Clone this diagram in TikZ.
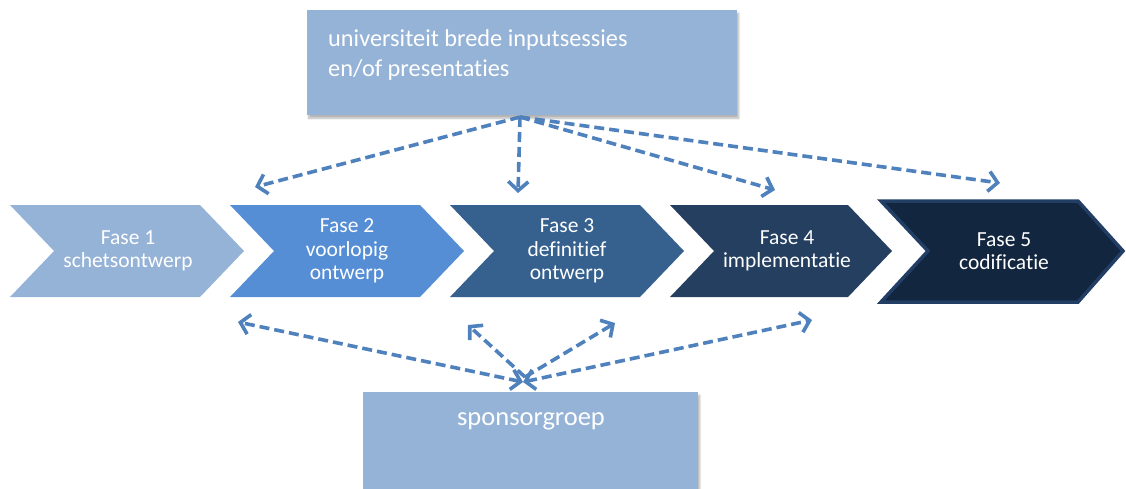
\documentclass[tikz,border=0pt]{standalone}
\usepackage{fontspec}
\setmainfont{Carlito}[Ligatures={NoCommon}]
\usetikzlibrary{arrows.meta,shadows.blur}
\definecolor{boxblue}{HTML}{95B3D7}
\definecolor{fone}{HTML}{95B3D7}
\definecolor{ftwo}{HTML}{558ED5}
\definecolor{fthree}{HTML}{36618F}
\definecolor{ffour}{HTML}{253F60}
\definecolor{ffive}{HTML}{12263F}
\definecolor{ffiveborder}{HTML}{223E64}
\definecolor{arrowblue}{HTML}{4F81BD}
\tikzset{
  infobox/.style={fill=boxblue, draw=none, blur shadow={shadow blur steps=8, shadow xshift=1.5pt, shadow yshift=-3pt, shadow opacity=30}},
  fasetext/.style={text=white, align=center, font=\fontsize{21.5}{23.5}\selectfont},
  conn/.style={draw=arrowblue, line width=3.6pt, dash pattern=on 10pt off 5pt},
  tipend/.style={-{Straight Barb[length=9pt,width=20pt,line width=3.6pt]}},
  tipboth/.style={{Straight Barb[length=9pt,width=20pt,line width=3.6pt]}-{Straight Barb[length=9pt,width=20pt,line width=3.6pt]}},
}
\newcommand{\chevron}[4]{% x0, width, depth, style
  \path[#4] (#1,205) -- ({#1+#2-#3},205) -- ({#1+#2},251) -- ({#1+#2-#3},297) -- (#1,297) -- ({#1+#3},251) -- cycle;
}
\begin{document}
\begin{tikzpicture}[x=1pt,y=-1pt]
\useasboundingbox (0,0) rectangle (1126,488);
% top box
\node[infobox, minimum width=430pt, minimum height=105pt, anchor=north west] (top) at (307,10) {};
\node[text=white, align=left, anchor=west, inner sep=0pt, font=\fontsize{24.3}{30}\selectfont] (toptext) at (328,55) {universiteit brede inputsessies\\en/of presentaties};
% bottom box
\node[infobox, minimum width=335pt, minimum height=100pt, anchor=north west] (bottom) at (363,392) {};
\node[text=white, font=\fontsize{26.5}{30}\selectfont] (bottomtext) at (531,421) {sponsorgroep};
% chevrons
\chevron{10}{234}{44}{fill=fone}
\chevron{230}{234}{44}{fill=ftwo}
\chevron{450}{234}{44}{fill=fthree}
\chevron{670}{222}{44}{fill=ffour}
\path[fill=ffive, draw=ffiveborder, line width=3.5pt, line join=miter]
  (881,201) -- (1078,201) -- (1123,251) -- (1078,302) -- (881,302) -- (928,251) -- cycle;
\node[fasetext] (f1) at (128,251) {Fase 1\\schetsontwerp};
\node[fasetext] (f2) at (347,251) {Fase 2\\voorlopig\\ontwerp};
\node[fasetext] (f3) at (567,251) {Fase 3\\definitief\\ontwerp};
\node[fasetext] (f4) at (787,251) {Fase 4\\implementatie};
\node[fasetext] (f5) at (1004,251) {Fase 5\\codificatie};
% arrow coordinates
\coordinate (ts) at (520,117);
\coordinate (t1) at (255,187);
\coordinate (t2) at (518,193);
\coordinate (t3) at (775,190);
\coordinate (t4) at (1000,183);
\coordinate (bs) at (523,382);
\coordinate (bv) at (525,377);
\coordinate (b1) at (238,322);
\coordinate (b2) at (468,325);
\coordinate (b3) at (615,323);
\coordinate (b4) at (812,320);
% top arrows
\draw[conn, tipend] (ts) -- (t1);
\draw[conn, tipend] (ts) -- (t2);
\draw[conn, tipend] (ts) -- (t3);
\draw[conn, tipend] (ts) -- (t4);
% bottom arrows
\draw[conn, tipboth] (bs) -- (b1);
\draw[conn, tipboth] (bs) -- (b4);
\draw[conn, tipend] (bv) -- (b2);
\draw[conn, tipend] (bv) -- (b3);
\end{tikzpicture}
\end{document}
